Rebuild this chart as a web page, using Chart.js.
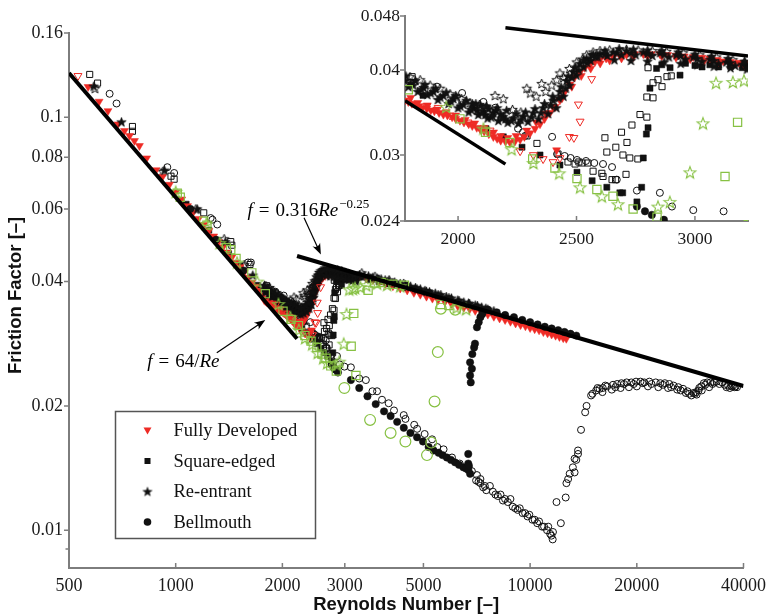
<!DOCTYPE html>
<html>
<head>
<meta charset="utf-8">
<script src="https://cdn.jsdelivr.net/npm/chart.js@4.4.1/dist/chart.umd.min.js"></script>
<style>
  html, body { margin: 0; padding: 0; background: #fff; }
  #wrap { position: relative; width: 773px; height: 616px; overflow: hidden; }
  #main { position: absolute; left: 0; top: 0; }
  #inset { position: absolute; left: 340px; top: 0; }
</style>
</head>
<body>
<div id="wrap">
  <canvas id="main" width="773" height="616"></canvas>
  <canvas id="inset" width="433" height="260"></canvas>
</div>
<script>
// ---------- axis ticks ----------
const reTicks = [500, 1000, 2000, 3000, 5000, 10000, 20000, 40000];
const fTicks = [0.009, 0.01, 0.02, 0.04, 0.06, 0.08, 0.1, 0.16];
const fTickLabels = ['', '0.01', '0.02', '0.04', '0.06', '0.08', '0.1', '0.16'];
const insetReTicks = [2000, 2500, 3000];
const insetFTicks = [0.024, 0.03, 0.04, 0.048];
const insetFTickLabels = ['0.024', '0.03', '0.04', '0.048'];

const seriesNames = ['Fully Developed', 'Square-edged', 'Re-entrant', 'Bellmouth'];

// ---------- reference correlations (endpoints in Re) ----------
const laminarRe = [500, 2200];
const blasiusRe = [2200, 40000];
const insetLaminarRe = [1776, 2200];
const insetBlasiusRe = [2200, 3224];

// ---------- measurements: [Re, f] ----------
// Fully developed inlet
const fullyDevFilled = [
  [566,0.1185],[608,0.1092],[644,0.1036],[687,0.0962],[717,0.0927],[741,0.0902],[765,0.0877],[790,0.0853],
  [828,0.0796],[880,0.0745],[918,0.0718],[960,0.0687],[1000,0.0658],[1040,0.0633],[1080,0.0610],[1120,0.0588],
  [1160,0.0568],[1200,0.0549],[1240,0.0531],[1280,0.0515],[1320,0.0499],[1360,0.0485],[1400,0.0471],[1440,0.0458],
  [1480,0.0445],[1520,0.0434],[1560,0.0421],[1600,0.0409],[1640,0.0398],[1680,0.0389],[1720,0.0380],[1760,0.0371],
  [1776,0.0361],[1790,0.0359],[1805,0.0357],[1820,0.0356],[1835,0.0354],[1850,0.0352],[1868,0.0351],[1885,0.0349],
  [1900,0.0348],[1920,0.0346],[1938,0.0344],[1955,0.0343],[1975,0.0341],[1990,0.0339],[2008,0.0337],[2025,0.0335],
  [2045,0.0333],[2060,0.0331],[2079,0.0329],[2095,0.0327],[2110,0.0325],[2130,0.0322],[2149,0.0319],[2165,0.0317],
  [2180,0.0315],[2200,0.0314],[2219,0.0313],[2240,0.0314],[2262,0.0316],[2280,0.0319],[2304,0.0323],[2325,0.0328],
  [2346,0.0333],[2365,0.0339],[2388,0.0346],[2410,0.0353],[2430,0.0361],[2450,0.0371],[2472,0.0381],[2492,0.0390],
  [2515,0.0397],[2535,0.0403],[2557,0.0407],[2578,0.0411],[2599,0.0414],[2625,0.0416],[2655,0.0418],[2685,0.0420],
  [2711,0.0421],[2745,0.0422],[2782,0.0422],[2815,0.0422],[2852,0.0422],[2885,0.0421],[2922,0.0420],[2955,0.0419],
  [2993,0.0418],[3030,0.0417],[3063,0.0416],[3095,0.0414],[3119,0.0412],[3150,0.0411],[3185,0.0410],[3220,0.0409],
  [1800,0.0364],[1830,0.0358],[1870,0.0355],[1910,0.0350],[1950,0.0347],[1990,0.0343],[2030,0.0338],[2070,0.0334],
  [2110,0.0329],[2150,0.0324],[2180,0.0320],[2210,0.0318],[2245,0.0320],[2290,0.0326],[2330,0.0335],[2370,0.0345],
  [2400,0.0353],[2440,0.0364],[2480,0.0378],[2520,0.0392],[2560,0.0402],[2600,0.0409],[2640,0.0413],[2690,0.0416],
  [2740,0.0418],[2800,0.0419],[2860,0.0419],[2920,0.0417],[2980,0.0415],[3040,0.0413],[3100,0.0411],[3160,0.0408],
  [3210,0.0406],[2416,0.0305],
  [3300,0.0412],[3450,0.0408],[3600,0.0404],[3750,0.0399],[3900,0.0395],[4100,0.0390],[4300,0.0385],[4500,0.0381],
  [4700,0.0376],[4900,0.0372],[5100,0.0368],[5300,0.0364],[5500,0.0361],[5750,0.0357],[6000,0.0353],[6250,0.0349],
  [6500,0.0346],[6750,0.0343],[7000,0.0340],[7300,0.0336],[7600,0.0333],[7900,0.0329],[8200,0.0326],[8500,0.0323],
  [8800,0.0320],[9100,0.0317],[9400,0.0314],[9700,0.0312],[10000,0.0309],[10300,0.0307],[10600,0.0305],[10900,0.0302],
  [11200,0.0300],[11500,0.0298],[11800,0.0296],[12100,0.0294],[12400,0.0292],[12650,0.0291]
];
const fullyDevOpen = [
  [530,0.126],[1868,0.0354],[1916,0.0352],[1966,0.0343],[2042,0.0335],[2093,0.0328],[2135,0.0326],
  [2262,0.0304],[2318,0.0300],[2359,0.0296],[2401,0.0293],[2430,0.0297],[2470,0.0319],[2489,0.0318],
  [2508,0.0356],[2515,0.0336],[2564,0.0388]
];

// Square-edged inlet
const squareFilled = [
  [1070,0.0616],[1240,0.0533],[1410,0.0467],[1520,0.0437],[1700,0.0392],
  [1852,0.0367],[2118,0.0328],[2191,0.0319],[2270,0.0308],[2346,0.0300],[2430,0.0290],[2502,0.0283],[2566,0.0275],
  [2628,0.0269],[2683,0.0264],[2695,0.0264],[2755,0.0256],[2775,0.0269],[2782,0.0297],[2795,0.0322],[2802,0.0329],
  [2810,0.0376],[2838,0.0402],[2860,0.0407],[2895,0.0403],[2937,0.0393],[2960,0.0409],[3000,0.0406],[3030,0.0404],
  [3063,0.0407],[3100,0.0404],[3150,0.0405],[3200,0.0403],
  [3300,0.0410],[3500,0.0405],[3750,0.0400],[4000,0.0395],[4300,0.0390],[4700,0.0384],[5200,0.0376]
];
const squareOpen = [
  [572,0.127],[602,0.121],[755,0.0950],[755,0.0925],[970,0.0720],[990,0.0708],[1200,0.0587],[1430,0.0500],
  [1440,0.0490],[1620,0.0440],
  [1806,0.0391],[2291,0.0320],[2333,0.0312],[2422,0.0301],[2464,0.0293],[2494,0.0291],[2510,0.0293],[2523,0.0292],
  [2548,0.0292],[2570,0.0284],[2607,0.0282],[2612,0.0279],[2650,0.0276],[2665,0.0276],[2709,0.0281],[2620,0.0318],
  [2628,0.0303],[2666,0.0308],[2696,0.0300],[2725,0.0297],[2759,0.0296],[2690,0.0324],[2713,0.0313],[2734,0.0332],
  [2768,0.0344],[2797,0.0341],[2797,0.0365],[2823,0.0364],[2823,0.0383],[2844,0.0387],[2861,0.0378],[2882,0.0391],
  [2802,0.0403],[2900,0.0392]
];
const squareGreen = [
  [1010,0.0655],[1030,0.0640],[1200,0.0560],[1225,0.0548],[1390,0.0483],[1430,0.0478],[1480,0.0455],[1640,0.0420],
  [1790,0.0374],[2008,0.0339],[2116,0.0324],[2219,0.0313],[2315,0.0296],[2409,0.0287],[2502,0.0277],[2586,0.0267],
  [2654,0.0261],[2739,0.0250],[2840,0.0243],[3127,0.0279],[3180,0.0335],
  [3225,0.0237],[3490,0.0381],[3640,0.0397],[3800,0.0398],[4100,0.0394],[4420,0.0392],[5600,0.0352],[5900,0.0350]
];

// Re-entrant inlet
const reentrantFilled = [
  [587,0.119],[703,0.0975],[930,0.0745],[1150,0.0600],[1380,0.0500],[1650,0.0415],
  [1776,0.0386],[1811,0.0380],[1854,0.0377],[1896,0.0372],[1938,0.0367],[1980,0.0363],[2022,0.0356],[2065,0.0352],
  [2107,0.0348],[2149,0.0346],[2191,0.0342],[2233,0.0340],[2276,0.0342],[2318,0.0346],[2360,0.0352],[2402,0.0361],
  [2430,0.0372],[2458,0.0386],[2487,0.0398],[2515,0.0409],[2543,0.0416],[2571,0.0421],[2599,0.0423],[2655,0.0425],
  [2711,0.0427],[2782,0.0425],[2852,0.0424],[2922,0.0421],[2993,0.0418],[3063,0.0415],[3133,0.0411],[3218,0.0407],
  [1790,0.0378],[1830,0.0372],[1870,0.0368],[1915,0.0362],[1960,0.0357],[2000,0.0352],[2045,0.0347],[2085,0.0344],
  [2125,0.0340],[2170,0.0337],[2210,0.0335],[2255,0.0334],[2295,0.0336],[2340,0.0339],[2380,0.0345],[2415,0.0352],
  [2445,0.0366],[2470,0.0380],[2500,0.0393],[2530,0.0404],[2560,0.0413],[2590,0.0418],[2630,0.0420],[2690,0.0421],
  [2750,0.0421],[2820,0.0420],[2890,0.0418],[2960,0.0415],[3030,0.0412],[3100,0.0409],[3170,0.0406],[3224,0.0404],
  [2060,0.0357],[2080,0.0349],[2095,0.0355],[2115,0.0344],[2130,0.0351],[2140,0.0341],[2160,0.0349],[2180,0.0345],
  [2200,0.0339],
  [1800,0.0383],[1845,0.0375],[1885,0.0370],[1925,0.0365],[1970,0.0360],[2010,0.0354],[2055,0.0350],[2100,0.0346],
  [2145,0.0343],[2185,0.0340],[2225,0.0337],[2265,0.0338],[2310,0.0341],[2350,0.0346],[2390,0.0355],[2425,0.0364],
  [2455,0.0376],[2480,0.0390],[2510,0.0400],[2545,0.0410],[2580,0.0419],[2620,0.0422],[2670,0.0424],[2730,0.0424],
  [2800,0.0423],[2870,0.0422],[2940,0.0420],[3010,0.0416],[3080,0.0413],[3150,0.0410],[3200,0.0408],
  [1780,0.0392],[1820,0.0386],[1860,0.0381],[1905,0.0376],[1950,0.0371],[1990,0.0367],[2035,0.0361],[2075,0.0357],
  [2120,0.0354],[2165,0.0352],[2205,0.0349],[2245,0.0345],[2285,0.0347],[2325,0.0351],[2365,0.0357],[2400,0.0366],
  [2435,0.0378],[2465,0.0392],[2495,0.0404],[2530,0.0414],[2565,0.0421],
  [2620,0.0427],[2680,0.0430],[2740,0.0429],[2800,0.0428],[2860,0.0427],[2930,0.0425],[3000,0.0422],[3070,0.0419],
  [3140,0.0416],[3210,0.0412],
  [2660,0.0414],[2730,0.0413],[2800,0.0412],[2870,0.0411],[2940,0.0409],[3010,0.0407],[3080,0.0405],[3150,0.0403],
  [3220,0.0401],
  [3300,0.0416],[3400,0.0414],[3500,0.0413],[3600,0.0410],[3700,0.0408],[3800,0.0406],[3900,0.0404],[4000,0.0402],
  [4150,0.0399],[4300,0.0396],[4450,0.0393],[4600,0.0390],[4750,0.0387],[4900,0.0384],[5050,0.0381],[5200,0.0378],
  [5400,0.0375],[5600,0.0372],[5800,0.0368],[6000,0.0365],[6250,0.0361],[6500,0.0357],[6750,0.0354],[7000,0.0351],
  [7300,0.0347],[7600,0.0343],[7900,0.0340],
  [3350,0.0412],[3550,0.0408],[3750,0.0404],[3950,0.0400],[4200,0.0395],[4500,0.0389],[4800,0.0384],[5100,0.0379],
  [5500,0.0372],[5900,0.0366],[6300,0.0360],[6700,0.0355],[7100,0.0350],[7500,0.0345]
];
const reentrantOpen = [
  [592,0.1175],[920,0.0740],[1140,0.0600],[1370,0.0508],[1560,0.0440],
  [1797,0.0391],[1840,0.0387],[1882,0.0380],[1924,0.0376],[1966,0.0369],[1994,0.0365],[2015,0.0363],[2050,0.0358],
  [2090,0.0356],[2120,0.0353],[2156,0.0367],[2191,0.0363],[2230,0.0350],[2265,0.0347],[2290,0.0376],[2305,0.0370],
  [2330,0.0366],[2353,0.0382],[2370,0.0372],[2395,0.0380],[2416,0.0387],[2430,0.0396],[2445,0.0390],[2470,0.0402],
  [2501,0.0411],[2525,0.0415],[2543,0.0421],[2570,0.0425],[2599,0.0427],[2640,0.0428],[2711,0.0429],[2760,0.0428],
  [2820,0.0427],[2880,0.0426],[2950,0.0424],[3020,0.0421],[3090,0.0418],[3160,0.0414],[3210,0.0411],
  [3350,0.0420],[3650,0.0412],[4000,0.0404],[4400,0.0396]
];
const reentrantGreen = [
  [1000,0.0660],[1220,0.0552],[1330,0.0496],[1490,0.0445],[1700,0.0400],
  [1950,0.0353],[2107,0.0328],[2226,0.0306],[2318,0.0292],[2427,0.0282],[2515,0.0269],[2607,0.0261],[2675,0.0254],
  [2844,0.0252],[2894,0.0256],[2979,0.0283],[3034,0.0334],[3089,0.0383],[3160,0.0384],[3207,0.0386],
  [3320,0.0388],[3450,0.0392],[3700,0.0396],[3950,0.0393],[4300,0.0390],[6200,0.0346],[6600,0.0343]
];

// Bellmouth inlet
const bellFilled = [
  [1100,0.0600],[1300,0.0505],[1550,0.0425],
  [2755,0.0252],[2789,0.0248],[2818,0.0245],[2869,0.0241],
  [3121,0.0231],[3295,0.0221],[3476,0.0211],[3667,0.0202],[3871,0.0194],[4040,0.0189],[4216,0.0183],[4401,0.0177],
  [4595,0.0172],[4797,0.0168],[4986,0.0164],[5173,0.0159],[5341,0.0156],[5517,0.0154],[5660,0.0152],[5820,0.0150],
  [5980,0.0148],[6139,0.0146],[6300,0.0144],[6479,0.0142],[6600,0.0141],[6691,0.0140],[6770,0.0137],[6690,0.0145],
  [6690,0.0153],[6720,0.0143],
  [6800,0.0228],[6770,0.0237],[6850,0.0246],[6770,0.0255],[6870,0.0267],[6950,0.0277],[6990,0.0283],[7080,0.0310],
  [7160,0.0319],[7240,0.0328],[7330,0.0334],
  [7600,0.0342],[8050,0.0337],[8500,0.0332],[9000,0.0328],[9500,0.0323],[10000,0.0319],[10500,0.0315],[11000,0.0311],
  [11500,0.0308],[12000,0.0305],[12500,0.0302],[13000,0.0299],[13500,0.0296]
];
const bellOpen = [
  [651,0.114],[681,0.108],[947,0.0757],[990,0.0733],[1255,0.0570],[1270,0.0565],[1310,0.0550],[1600,0.0445],[1630,0.0445],
  [1911,0.0378],[2017,0.0370],[2107,0.0359],[2157,0.0352],[2253,0.0328],[2274,0.0324],[2283,0.0320],[2397,0.0319],
  [2418,0.0301],[2450,0.0299],[2475,0.0297],[2502,0.0295],[2540,0.0294],[2575,0.0292],[2612,0.0291],[2650,0.0288],
  [2670,0.0276],[2755,0.0266],[2852,0.0264],[2903,0.0252],[2993,0.0249],
  [3121,0.0248],[3295,0.0233],[3440,0.0231],[3590,0.0217],[3700,0.0217],[3820,0.0207],[3990,0.0203],[4130,0.0195],
  [4400,0.0190],[4450,0.0186],[4710,0.0180],[4800,0.0176],[5040,0.0171],[5290,0.0166],[5470,0.0159],[5700,0.0157],
  [6020,0.0150],[6330,0.0145],[6600,0.0142],[6850,0.0139],[7040,0.0132],[7080,0.0136],[7240,0.0130],[7240,0.0133],
  [7370,0.0127],[7520,0.0125],[7700,0.0128],[7850,0.0124],[8110,0.0121],[8250,0.0122],[8380,0.0118],[8650,0.0117],
  [8800,0.0119],[8930,0.0114],[9220,0.0112],[9350,0.0113],[9520,0.0110],[9830,0.0108],[9950,0.0109],[10150,0.0106],
  [10470,0.0104],[10600,0.0105],[10810,0.0102],[11160,0.0100],[11250,0.0102],[11390,0.0098],[11580,0.0095],[11600,0.0099],
  [7150,0.0131],[7450,0.0128],[7980,0.0122],[8500,0.0119],[9080,0.0113],[9680,0.0110],[10300,0.0106],[10950,0.0102],
  [11480,0.0097],
  [11870,0.0117],[12210,0.0104],[12600,0.0120],[12660,0.0130],[12800,0.0133],[12930,0.0137],[13200,0.0142],[13350,0.0138],
  [13350,0.0149],[13500,0.0148],[13650,0.0153],[13650,0.0156],[13920,0.0175],[14300,0.0193],[14430,0.0200],[14860,0.0212],
  [15360,0.0218],[15700,0.0220],[16030,0.0221],[16500,0.0223],[17140,0.0225],[17600,0.0226],[18100,0.0227],[18720,0.0228],
  [19300,0.0228],[19900,0.0229],[20480,0.0229],[21000,0.0228],[21700,0.0229],[22620,0.0228],[23300,0.0227],[24000,0.0227],
  [24720,0.0226],[25400,0.0224],[26200,0.0222],[27010,0.0220],[27800,0.0217],[28900,0.0215],[29400,0.0216],[29880,0.0218],
  [30400,0.0223],[30920,0.0227],[31600,0.0228],[32300,0.0228],[33080,0.0228],[34200,0.0226],[35410,0.0225],[36200,0.0224],
  [37020,0.0223],[37700,0.0222],[38350,0.0222],
  [16000,0.0216],[17000,0.0219],[18000,0.0221],[19000,0.0222],[20000,0.0223],[21500,0.0223],[23000,0.0222],[24500,0.0221],
  [26000,0.0219],[27500,0.0215],[28500,0.0212],[29500,0.0213],[30500,0.0218],[32000,0.0222],
  [15000,0.0214],[15500,0.0221],[16300,0.0224],[17400,0.0222],[18400,0.0226],[19600,0.0226],[20800,0.0227],[22000,0.0226],
  [23700,0.0225],[25000,0.0222],[26600,0.0218],[28100,0.0214],[29200,0.0214],[30000,0.0221],[31200,0.0225],[32700,0.0226],
  [33600,0.0229],[34800,0.0228],[35800,0.0222],[36600,0.0221],[37400,0.0224],[38000,0.0223]
];
const bellGreen = [
  [2992,0.0221],[3536,0.0185],[4040,0.0172],[4448,0.0164],[5117,0.0152],[5260,0.0163],[5375,0.0205],[5490,0.0270],
  [5600,0.0344],[6150,0.0342]
];

// ---------- look ----------
const RED = '#ee2b25', GREEN = '#87c143', INK = '#111111', AXIS = '#7d7d7d';

function starSprite(R, fill, stroke, lw) {
  const s = Math.ceil(2 * R + 2 * lw + 3);
  const c = document.createElement('canvas');
  c.width = s; c.height = s;
  const g = c.getContext('2d');
  g.translate(s / 2, s / 2 + R * 0.1);
  g.beginPath();
  for (let i = 0; i < 10; i++) {
    const rr = i % 2 ? R * 0.42 : R;
    const a = -Math.PI / 2 + i * Math.PI / 5;
    g.lineTo(rr * Math.cos(a), rr * Math.sin(a));
  }
  g.closePath();
  if (fill) { g.fillStyle = fill; g.fill(); }
  if (stroke) { g.lineWidth = lw; g.strokeStyle = stroke; g.lineJoin = 'miter'; g.stroke(); }
  return c;
}

const sprites = {
  starFilled: starSprite(5, INK, INK, 0.6),
  starOpen: starSprite(5, null, INK, 1.0),
  starGreen: starSprite(6.2, null, GREEN, 1.1),
  starKey: starSprite(4.8, INK, INK, 0.5)
};

const NONE = 'rgba(0,0,0,0)';
const styles = {
  fdFilled: { pointStyle: 'triangle', pointRotation: 180, pointRadius: 4.6, pointBackgroundColor: RED, pointBorderColor: RED, pointBorderWidth: 0.5 },
  fdOpen:   { pointStyle: 'triangle', pointRotation: 180, pointRadius: 4.6, pointBackgroundColor: NONE, pointBorderColor: RED, pointBorderWidth: 1 },
  seFilled: { pointStyle: 'rect', pointRadius: 4.3, pointBackgroundColor: INK, pointBorderColor: INK, pointBorderWidth: 0.5 },
  seOpen:   { pointStyle: 'rect', pointRadius: 4.3, pointBackgroundColor: NONE, pointBorderColor: INK, pointBorderWidth: 1 },
  seGreen:  { pointStyle: 'rect', pointRadius: 5.8, pointBackgroundColor: NONE, pointBorderColor: GREEN, pointBorderWidth: 1.2 },
  reFilled: { pointStyle: sprites.starFilled, pointRadius: 4 },
  reOpen:   { pointStyle: sprites.starOpen, pointRadius: 4 },
  reGreen:  { pointStyle: sprites.starGreen, pointRadius: 5 },
  bmFilled: { pointStyle: 'circle', pointRadius: 3.7, pointBackgroundColor: INK, pointBorderColor: INK, pointBorderWidth: 0.5 },
  bmOpen:   { pointStyle: 'circle', pointRadius: 3.5, pointBackgroundColor: NONE, pointBorderColor: INK, pointBorderWidth: 1 },
  bmGreen:  { pointStyle: 'circle', pointRadius: 5.4, pointBackgroundColor: NONE, pointBorderColor: GREEN, pointBorderWidth: 1.2 }
};

function scatterSet(label, pairs, style, order) {
  return Object.assign({
    label, type: 'scatter', order, showLine: false,
    data: pairs.map(([x, y]) => ({ x, y }))
  }, style);
}
function lineSet(label, res, fn, width) {
  return {
    label, type: 'line', order: 0, data: res.map(r => ({ x: r, y: fn(r) })),
    borderColor: '#000', borderWidth: width, pointRadius: 0, fill: false, tension: 0,
    borderCapStyle: 'butt'
  };
}
const laminarF = re => 64 / re;
const blasiusF = re => 0.316 * Math.pow(re, -0.25);

// lower order is drawn on top
function pointSets() {
  return [
    scatterSet('Square-edged (green)', squareGreen, styles.seGreen, 1),
    scatterSet('Re-entrant (green)', reentrantGreen, styles.reGreen, 2),
    scatterSet('Bellmouth (green)', bellGreen, styles.bmGreen, 3),
    scatterSet(seriesNames[0] + ' (open)', fullyDevOpen, styles.fdOpen, 4),
    scatterSet(seriesNames[3], bellFilled, styles.bmFilled, 5),
    scatterSet(seriesNames[2], reentrantFilled, styles.reFilled, 6),
    scatterSet(seriesNames[0], fullyDevFilled, styles.fdFilled, 7),
    scatterSet(seriesNames[2] + ' (open)', reentrantOpen, styles.reOpen, 8),
    scatterSet(seriesNames[1], squareFilled, styles.seFilled, 9),
    scatterSet(seriesNames[1] + ' (open)', squareOpen, styles.seOpen, 10),
    scatterSet(seriesNames[3] + ' (open)', bellOpen, styles.bmOpen, 11)
  ];
}

// ---------- plugins ----------
// Short tick marks: y ticks point outward, x ticks point into the plot
const tickMarks = {
  id: 'tickMarks',
  afterDraw(chart, args, o) {
    const { ctx, chartArea: a } = chart;
    const xs = chart.scales.x, ys = chart.scales.y;
    ctx.save();
    ctx.strokeStyle = AXIS; ctx.lineWidth = 1.5;
    ctx.beginPath();
    for (const v of o.xTicks) {
      const px = xs.getPixelForValue(v);
      ctx.moveTo(px, a.bottom); ctx.lineTo(px, a.bottom - o.len);
    }
    o.yTicks.forEach((v, i) => {
      const py = ys.getPixelForValue(v);
      const l = o.yLabels[i] === '' ? o.len * 0.7 : o.len;
      ctx.moveTo(a.left, py); ctx.lineTo(a.left - l, py);
    });
    ctx.stroke();
    ctx.restore();
  }
};

function arrow(ctx, x0, y0, x1, y1) {
  const ang = Math.atan2(y1 - y0, x1 - x0);
  const L = 11, W = 4.2;
  ctx.beginPath();
  ctx.moveTo(x0, y0);
  ctx.lineTo(x1 - Math.cos(ang) * L * 0.6, y1 - Math.sin(ang) * L * 0.6);
  ctx.stroke();
  ctx.save();
  ctx.translate(x1, y1); ctx.rotate(ang);
  ctx.beginPath();
  ctx.moveTo(0, 0);
  ctx.lineTo(-L, -W);
  ctx.quadraticCurveTo(-L * 0.6, 0, -L, W);
  ctx.closePath();
  ctx.fill();
  ctx.restore();
}

function mathRun(ctx, x, y, parts) {
  let cx = x;
  for (const p of parts) {
    ctx.font = (p.it ? 'italic ' : '') + (p.size || 19) + 'px "Liberation Serif"';
    ctx.fillText(p.t, cx, y - (p.up || 0));
    cx += ctx.measureText(p.t).width + (p.gap || 0);
  }
}

// Labels for the two correlation lines, anchored in data coordinates
const notes = {
  laminar: { text: [831, 0.0249], tail: [1306, 0.0269], tip: [1790, 0.0323] },
  blasius: { text: [1594, 0.0578], tail: [2302, 0.0571], tip: [2568, 0.0465] }
};
const noteLabels = {
  id: 'noteLabels',
  afterDraw(chart) {
    const { ctx } = chart;
    const xs = chart.scales.x, ys = chart.scales.y;
    const P = ([re, f]) => [xs.getPixelForValue(re), ys.getPixelForValue(f)];
    ctx.save();
    ctx.fillStyle = '#000'; ctx.strokeStyle = '#000'; ctx.lineWidth = 1.2;
    ctx.textBaseline = 'alphabetic'; ctx.textAlign = 'left';
    let [tx, ty] = P(notes.laminar.text);
    mathRun(ctx, tx, ty, [
      { t: 'f', it: true, gap: 6 }, { t: '=', gap: 6 }, { t: '64/' }, { t: 'Re', it: true }
    ]);
    [tx, ty] = P(notes.blasius.text);
    mathRun(ctx, tx, ty, [
      { t: 'f', it: true, gap: 6 }, { t: '=', gap: 6 }, { t: '0.316' }, { t: 'Re', it: true, gap: 1 },
      { t: '\u22120.25', size: 13, up: 8 }
    ]);
    let a = P(notes.laminar.tail), b = P(notes.laminar.tip);
    arrow(ctx, a[0], a[1], b[0], b[1]);
    a = P(notes.blasius.tail); b = P(notes.blasius.tip);
    arrow(ctx, a[0], a[1], b[0], b[1]);
    ctx.restore();
  }
};

const keyBox = {
  id: 'keyBox',
  afterDraw(chart) {
    const { ctx, chartArea: ca } = chart;
    const left = ca.left + 46.5, top = ca.top + 378.5, w = 200, h = 127;
    ctx.save();
    ctx.fillStyle = '#fff';
    ctx.fillRect(left, top, w, h);
    ctx.strokeStyle = '#555'; ctx.lineWidth = 1.5;
    ctx.strokeRect(left, top, w, h);
    const mx = left + 32, tx = left + 58;
    ctx.font = '18.5px "Liberation Serif"';
    ctx.textBaseline = 'middle'; ctx.textAlign = 'left';
    seriesNames.forEach((name, i) => {
      const y = top + 19 + i * 30.5;
      ctx.fillStyle = INK;
      if (i === 0) {
        ctx.fillStyle = RED;
        ctx.beginPath();
        ctx.moveTo(mx - 4, y - 3); ctx.lineTo(mx + 4, y - 3); ctx.lineTo(mx, y + 4);
        ctx.closePath(); ctx.fill();
      } else if (i === 1) {
        ctx.fillRect(mx - 3, y - 3, 6, 6);
      } else if (i === 2) {
        const s = sprites.starKey;
        ctx.drawImage(s, mx - s.width / 2, y - s.height / 2);
      } else {
        ctx.beginPath(); ctx.arc(mx, y, 3.8, 0, Math.PI * 2); ctx.fill();
      }
      ctx.fillStyle = '#111';
      ctx.fillText(name, tx, y + 1);
    });
    ctx.restore();
  }
};

const tickFont = { family: 'Liberation Serif', size: 18 };
const titleFont = { family: 'Liberation Sans', size: 18.5, weight: 'bold' };

// ---------- main chart ----------
new Chart(document.getElementById('main'), {
  type: 'scatter',
  data: {
    datasets: [
      lineSet('f = 64/Re', laminarRe, laminarF, 4),
      lineSet('f = 0.316 Re^-0.25', blasiusRe, blasiusF, 4),
      ...pointSets()
    ]
  },
  options: {
    responsive: false, animation: false, devicePixelRatio: 1,
    layout: { autoPadding: false, padding: { top: 33, right: 24, left: 0, bottom: 0 } },
    plugins: {
      legend: { display: false }, tooltip: { enabled: false },
      tickMarks: { xTicks: reTicks, yTicks: fTicks, yLabels: fTickLabels, len: 5 }
    },
    scales: {
      x: {
        type: 'logarithmic', min: 500, max: 40000,
        grid: { display: false, drawTicks: false },
        border: { display: true, color: AXIS, width: 2 },
        ticks: { autoSkip: false, maxRotation: 0, padding: 7, font: tickFont, color: '#1a1a1a',
                 callback: v => String(v) },
        afterBuildTicks: s => { s.ticks = reTicks.map(v => ({ value: v })); },
        afterFit: s => { s.height = 48; },
        title: { display: true, text: 'Reynolds Number [\u2013]', font: titleFont, color: '#111',
                 padding: { top: 0, bottom: 0 } }
      },
      y: {
        type: 'logarithmic', min: 0.0081, max: 0.16,
        grid: { display: false, drawTicks: false },
        border: { display: true, color: AXIS, width: 2 },
        ticks: { autoSkip: false, padding: 6, font: tickFont, color: '#1a1a1a',
                 callback: v => { const i = fTicks.indexOf(v); return i >= 0 ? fTickLabels[i] : ''; } },
        afterBuildTicks: s => { s.ticks = fTicks.map(v => ({ value: v })); },
        afterFit: s => { s.width = 69; },
        title: { display: true, text: '  Friction Factor [\u2013]', font: titleFont, color: '#111',
                 padding: { top: 5, bottom: 0 } }
      }
    }
  },
  plugins: [tickMarks, noteLabels, keyBox]
});

// ---------- inset: transition region ----------
new Chart(document.getElementById('inset'), {
  type: 'scatter',
  data: {
    datasets: [
      lineSet('laminar', insetLaminarRe, laminarF, 3.5),
      lineSet('turbulent', insetBlasiusRe, blasiusF, 3.5),
      ...pointSets()
    ]
  },
  options: {
    responsive: false, animation: false, devicePixelRatio: 1,
    layout: { autoPadding: false, padding: { top: 16, right: 25, left: 0, bottom: 0 } },
    plugins: {
      legend: { display: false }, tooltip: { enabled: false },
      tickMarks: { xTicks: insetReTicks, yTicks: insetFTicks, yLabels: insetFTickLabels, len: 5 }
    },
    scales: {
      x: {
        type: 'linear', min: 1776, max: 3224,
        grid: { display: false, drawTicks: false },
        border: { display: true, color: AXIS, width: 2 },
        ticks: { autoSkip: false, maxRotation: 0, padding: 8, font: { family: 'Liberation Serif', size: 17.5 }, color: '#1a1a1a',
                 callback: v => String(v) },
        afterBuildTicks: s => { s.ticks = insetReTicks.map(v => ({ value: v })); },
        afterFit: s => { s.height = 39; }
      },
      y: {
        type: 'logarithmic', min: 0.024, max: 0.048,
        grid: { display: false, drawTicks: false },
        border: { display: true, color: AXIS, width: 2 },
        ticks: { autoSkip: false, padding: 5, font: { family: 'Liberation Serif', size: 17.5 }, color: '#1a1a1a',
                 callback: v => { const i = insetFTicks.indexOf(v); return i >= 0 ? insetFTickLabels[i] : ''; } },
        afterBuildTicks: s => { s.ticks = insetFTicks.map(v => ({ value: v })); },
        afterFit: s => { s.width = 65; }
      }
    }
  },
  plugins: [tickMarks]
});
</script>
</body>
</html>
